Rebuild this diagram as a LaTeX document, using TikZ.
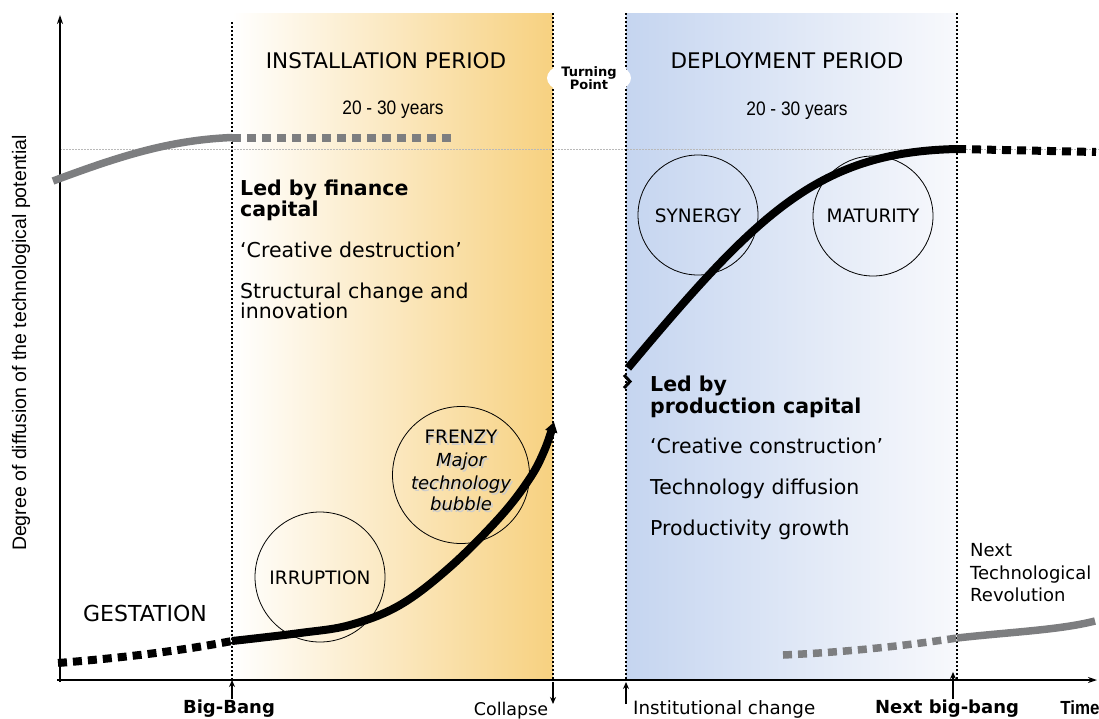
\documentclass[tikz,border=0pt]{standalone}
\usepackage{fontspec}
\setmainfont{DejaVu Sans}
\newfontfamily\arialfont{Liberation Sans}
\newfontfamily\narrowfont[FakeStretch=0.89]{Liberation Sans}
\usetikzlibrary{arrows.meta,shapes.geometric}

\definecolor{instcol}{RGB}{247,209,128}
\definecolor{deplcol}{RGB}{197,213,240}
\definecolor{deplend}{RGB}{248,249,252}
\definecolor{curvegray}{RGB}{125,126,128}

\tikzset{
  periodline/.style={line width=2.2pt, dash pattern=on 2pt off 2pt},
  axisline/.style={line width=1.8pt, -{Stealth[length=9pt,width=6pt]}},
  phase/.style={draw, line width=0.8pt, circle},
  thickblack/.style={line width=8pt, line cap=butt},
  dotblack/.style={line width=8pt, dash pattern=on 9pt off 6pt},
  thickgray/.style={line width=7.5pt, curvegray},
  dotgray/.style={line width=7.5pt, curvegray, dash pattern=on 9pt off 6pt},
  body/.style={font=\fontsize{20.5}{24}\selectfont, anchor=base west, inner sep=0pt},
  bodybold/.style={font=\fontsize{20.5}{24}\selectfont\bfseries, anchor=base west, inner sep=0pt},
  heading/.style={font=\fontsize{21.5}{25}\selectfont, anchor=base, inner sep=0pt},
  years/.style={font=\narrowfont\fontsize{19.5}{23}\selectfont, anchor=base, inner sep=0pt},
  phasetext/.style={font=\fontsize{18.5}{22}\selectfont, anchor=base, inner sep=0pt},
  frenzy/.style={font=\fontsize{18}{22}\selectfont\itshape, anchor=base, inner sep=0pt},
  marker/.style={line width=2pt, -{Stealth[length=7pt,width=6pt]}},
  ticklabel/.style={font=\fontsize{18.3}{21}\selectfont, anchor=base, inner sep=0pt},
  tickbold/.style={font=\fontsize{18}{21}\selectfont\bfseries, anchor=base, inner sep=0pt},
}

\begin{document}
\begin{tikzpicture}[x=1pt,y=-1pt]
\useasboundingbox (0,0) rectangle (1099,718);

% period backgrounds
\shade[left color=white, right color=instcol] (232,13) rectangle (553,680);
\shade[left color=deplcol, right color=deplend] (626,13) rectangle (957,680);

% level of full potential
\draw[gray!55, line width=0.6pt, dash pattern=on 2pt off 1pt] (60,149) -- (1099,149);

% period boundaries
\draw[periodline] (232,22) -- (232,680);
\draw[periodline] (553,13) -- (553,680);
\draw[periodline] (626,13) -- (626,680);
\draw[periodline] (957,13) -- (957,680);

% turning point label
\node[fill=white, ellipse, inner sep=0pt, minimum width=84pt, minimum height=38pt,
      align=center, font=\fontsize{13}{12}\selectfont\bfseries] (turn) at (589,78)
      {Turning\\Point};

% axes
\coordinate (origin) at (60,680);
\coordinate (ytop) at (60,15);
\coordinate (xend) at (1097,680);
\draw[axisline] (60,682) -- (ytop);
\draw[axisline] (57,680) -- (xend);

% previous revolution (grey)
\draw[thickgray] (53,181) .. controls (120,156) and (170,140) .. (232,137.5);
\draw[dotgray] (232,138) -- (456,138);

% current revolution: gestation and installation
\draw[dotblack] (58,663) .. controls (120,658) and (180,651) .. (232,641);
\draw[thickblack, -{Triangle[length=10pt,width=12pt]}]
  plot[smooth, tension=0.6] coordinates {(232,641) (300,633) (350,625) (400,605)
    (450,567) (500,517) (530,478) (545,449) (554,422)};

% current revolution: deployment
\draw[thickblack] (628,368) .. controls (760,210) and (820,152) .. (957,149);
\draw[dotblack] (957,149) -- (1096,152);
\draw[line width=3pt] (624,375) -- (630,381.5) -- (624,388);

% next revolution (grey)
\draw[dotgray] (783,655) .. controls (850,652) and (910,645) .. (957,638);
\draw[thickgray] (957,638) .. controls (1010,632) and (1060,630) .. (1095,621);

% phases
\node[phase, minimum size=130pt] (irr) at (320,577) {};
\node[phase, minimum size=137pt] (fre) at (461,475) {};
\node[phase, minimum size=120pt] (syn) at (698,215) {};
\node[phase, minimum size=120pt] (mat) at (873,216) {};
\node[phasetext] at (320,584) {IRRUPTION};
\node[phasetext] at (698,222) {SYNERGY};
\node[phasetext] at (873,222) {MATURITY};
\foreach \dx/\col in {2/gray!40, 0/black}{
  \node[phasetext, text=\col] at (461+\dx,443+\dx) {FRENZY};
  \node[frenzy, text=\col] at (461+\dx,466+\dx) {Major};
  \node[frenzy, text=\col] at (461+\dx,489+\dx) {technology};
  \node[frenzy, text=\col] at (461+\dx,510+\dx) {bubble};
}
\node[phasetext, font=\fontsize{22}{26}\selectfont] (gest) at (145,621) {GESTATION};

% period headings
\node[heading] (inst) at (386,68) {INSTALLATION PERIOD};
\node[years] (insty) at (393,114) {20 - 30 years};
\node[heading] (depl) at (787,68) {DEPLOYMENT PERIOD};
\node[years] (deply) at (797,115) {20 - 30 years};

% installation texts
\node[bodybold] (lf1) at (240,195) {Led by finance};
\node[bodybold] (lf2) at (240,216) {capital};
\node[body] (cd) at (240,257) {‘Creative destruction’};
\node[body] (sc1) at (240,298) {Structural change and};
\node[body] (sc2) at (240,318) {innovation};

% deployment texts
\node[bodybold] (lp1) at (650,391) {Led by};
\node[bodybold] (lp2) at (650,413) {production capital};
\node[body] (cc) at (650,453) {‘Creative construction’};
\node[body] (td) at (650,494) {Technology diffusion};
\node[body] (pg) at (650,535) {Productivity growth};

% next revolution
\node[body, font=\fontsize{18}{21}\selectfont] (nx1) at (970,556) {Next};
\node[body, font=\fontsize{18}{21}\selectfont] (nx2) at (970,579) {Technological};
\node[body, font=\fontsize{18}{21}\selectfont] (nx3) at (970,601) {Revolution};

% y-axis label
\node[font=\arialfont\fontsize{19.5}{23}\selectfont, rotate=90, inner sep=0pt]
  (ylab) at (21,343) {Degree of diffusion of the technological potential};

% events on the time axis
\coordinate (bbtop) at (232,680);
\coordinate (bbbot) at (232,699);
\coordinate (coltop) at (553,682);
\coordinate (colbot) at (553,704);
\coordinate (ictop) at (626,682);
\coordinate (icbot) at (626,704);
\coordinate (nbtop) at (953,672);
\coordinate (nbbot) at (953,699);
\draw[marker] (bbbot) -- (bbtop);
\draw[marker] (coltop) -- (colbot);
\draw[marker] (icbot) -- (ictop);
\draw[marker] (nbbot) -- (nbtop);
\node[tickbold] (bb) at (229,713) {Big-Bang};
\node[ticklabel, font=\fontsize{17.5}{20}\selectfont] (col) at (511,715) {Collapse};
\node[ticklabel, anchor=base west] (ic) at (633,714) {Institutional change};
\node[tickbold] (nb) at (947,713) {Next big-bang};
\node[tickbold, font=\narrowfont\fontsize{19}{22}\selectfont\bfseries] (time) at (1080,714) {Time};
\end{tikzpicture}
\end{document}
